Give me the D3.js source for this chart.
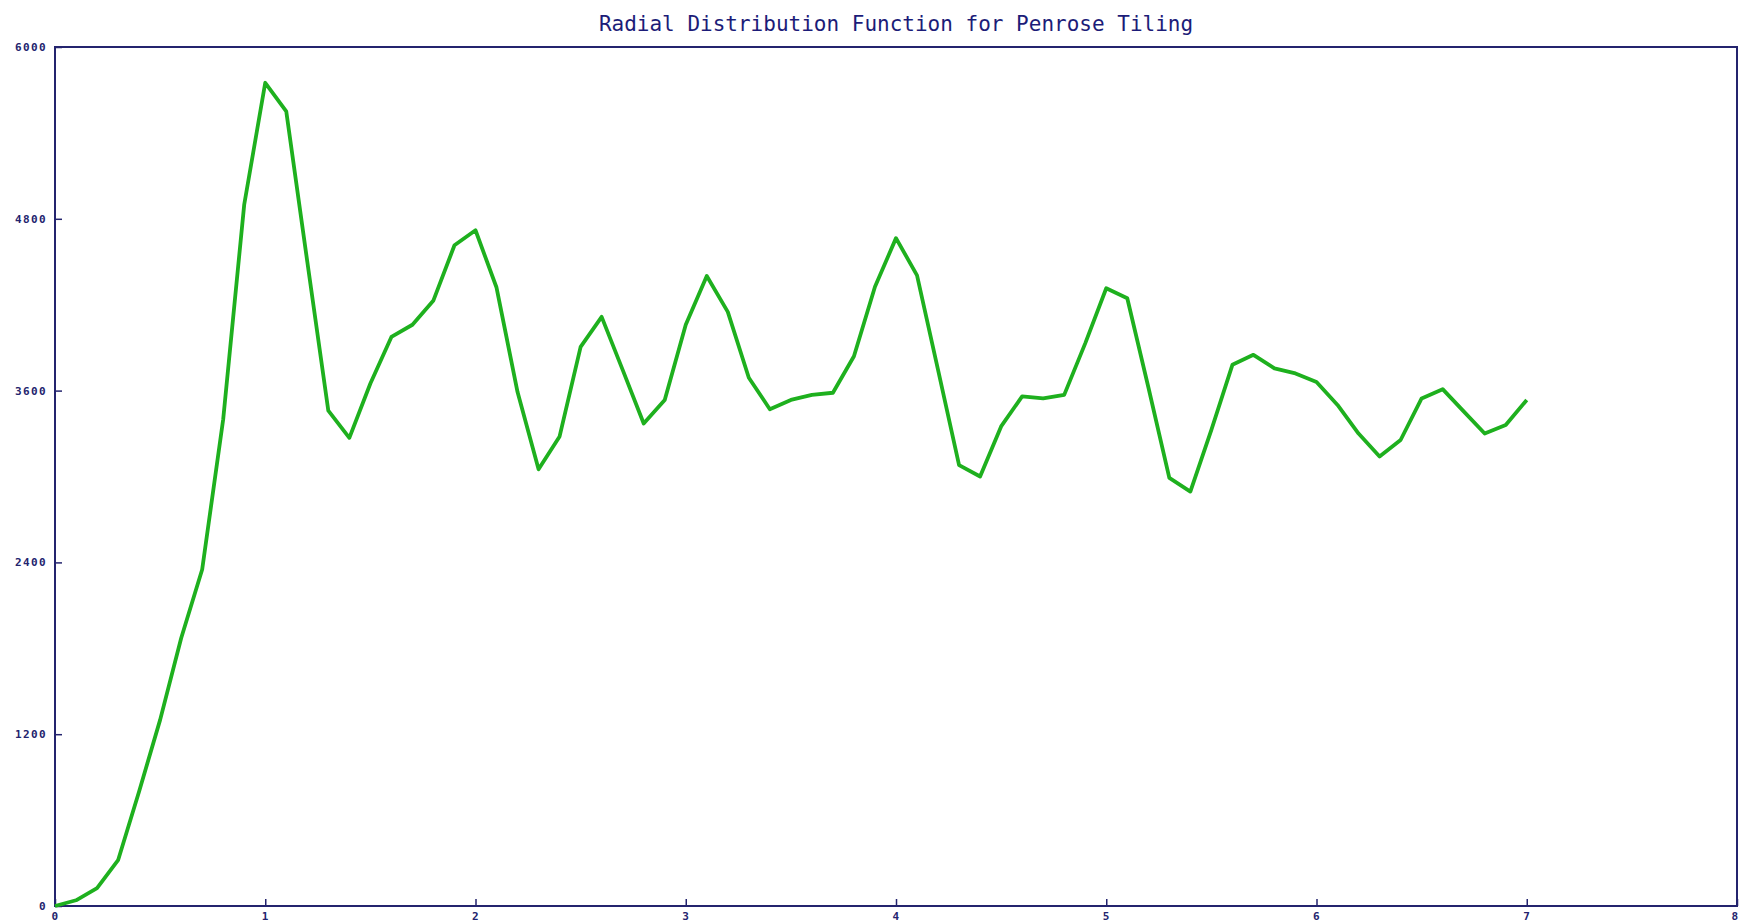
<!DOCTYPE html>
<html>
<head>
<meta charset="utf-8">
<script src="https://cdn.jsdelivr.net/npm/d3@7"></script>
<style>
    body { margin: 0; background: #ffffff; }
    svg { display: block; }
</style>
</head>
<body>
<svg id="chart"></svg>
<script>
// radius values (x) and RDF counts (y)
const radius = [0.0, 0.1, 0.2, 0.3, 0.4, 0.5, 0.6, 0.7, 0.8, 0.9,
    1.0, 1.1, 1.2, 1.3, 1.4, 1.5, 1.6, 1.7, 1.8, 1.9,
    2.0, 2.1, 2.2, 2.3, 2.4, 2.5, 2.6, 2.7, 2.8, 2.9,
    3.0, 3.1, 3.2, 3.3, 3.4, 3.5, 3.6, 3.7, 3.8, 3.9,
    4.0, 4.1, 4.2, 4.3, 4.4, 4.5, 4.6, 4.7, 4.8, 4.9,
    5.0, 5.1, 5.2, 5.3, 5.4, 5.5, 5.6, 5.7, 5.8, 5.9,
    6.0, 6.1, 6.2, 6.3, 6.4, 6.5, 6.6, 6.7, 6.8, 6.9,
    7.0];
const counts = [0, 40, 125, 320, 800, 1300, 1870, 2350, 3400, 4900,
    5750, 5550, 4500, 3460, 3270, 3650, 3975, 4060, 4230, 4615,
    4720, 4320, 3590, 3050, 3280, 3905, 4115, 3745, 3370, 3535,
    4060, 4400, 4150, 3690, 3470, 3535, 3570, 3585, 3840, 4325,
    4665, 4405, 3745, 3080, 3000, 3350, 3560, 3545, 3570, 3930,
    4315, 4245, 3625, 2990, 2895, 3325, 3780, 3850, 3755, 3720,
    3660, 3500, 3300, 3140, 3255, 3545, 3610, 3455, 3300, 3360,
    3535];
const xTicks = [0, 1, 2, 3, 4, 5, 6, 7, 8];
const yTicks = [0, 1200, 2400, 3600, 4800, 6000];

const title = "Radial Distribution Function for Penrose Tiling";
const axisColor = "#24246e";

const width = 1740, height = 924;
const margin = { top: 47, right: 3, bottom: 18, left: 55 };

const svg = d3.select("#chart").attr("width", width).attr("height", height);

const x = d3.scaleLinear().domain([0, 8]).range([margin.left, width - margin.right]);
const y = d3.scaleLinear().domain([0, 6000]).range([height - margin.bottom, margin.top]);

// title
svg.append("text")
    .attr("x", (x(0) + x(8)) / 2)
    .attr("y", 31)
    .attr("text-anchor", "middle")
    .attr("font-family", "'DejaVu Sans Mono', monospace")
    .attr("font-size", 21)
    .attr("fill", "#1c1c78")
    .text(title);

// axes, ticks pointing inward
const xAxis = svg.append("g")
    .attr("transform", `translate(0,${y(0)})`)
    .call(d3.axisBottom(x).tickValues(xTicks).tickSize(-7).tickPadding(4).tickFormat(d3.format("d")));

const yAxis = svg.append("g")
    .attr("transform", `translate(${x(0)},0)`)
    .call(d3.axisLeft(y).tickValues(yTicks).tickSize(-7).tickPadding(8).tickFormat(d3.format("d")));

[xAxis, yAxis].forEach(a => {
    a.select(".domain").remove();
    a.selectAll(".tick line").attr("stroke", axisColor).attr("stroke-width", 1.5);
    a.selectAll(".tick text")
        .attr("fill", axisColor)
        .attr("font-family", "'DejaVu Sans Mono', monospace")
        .attr("font-weight", "bold")
        .attr("font-size", 11)
        .attr("letter-spacing", 1.4);
});
xAxis.selectAll(".tick text").attr("dy", "0.9em");
// keep the last label inside the page
xAxis.selectAll(".tick text").filter(d => d === 8)
    .attr("text-anchor", "end")
    .attr("x", 2);

// frame
svg.append("rect")
    .attr("x", x(0))
    .attr("y", y(6000))
    .attr("width", x(8) - x(0))
    .attr("height", y(0) - y(6000))
    .attr("fill", "none")
    .attr("stroke", axisColor)
    .attr("stroke-width", 2);

// curve
const line = d3.line()
    .x((d, i) => x(radius[i]))
    .y(d => y(d));

svg.append("path")
    .datum(counts)
    .attr("d", line)
    .attr("fill", "none")
    .attr("stroke", "#1eb01e")
    .attr("stroke-width", 3.8)
    .attr("stroke-linejoin", "round");
</script>
</body>
</html>
